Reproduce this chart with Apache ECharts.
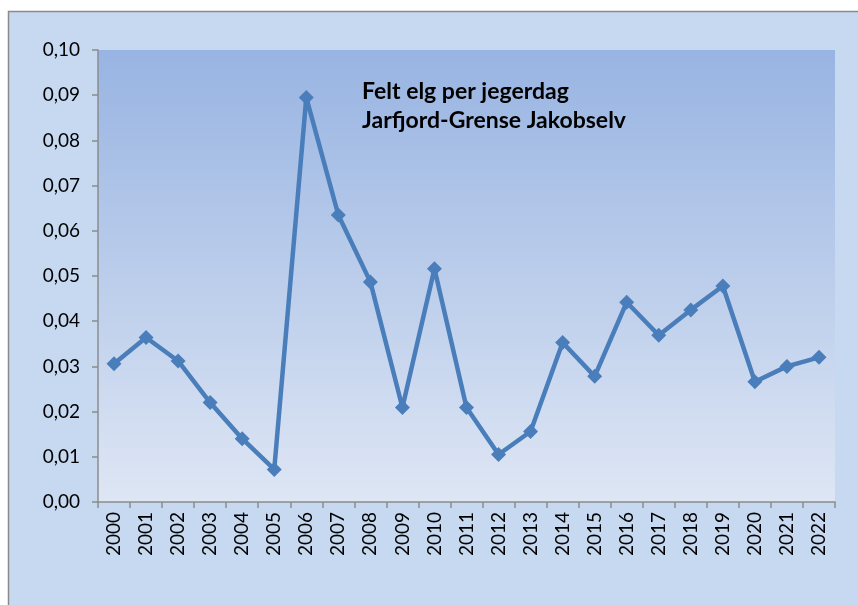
<!DOCTYPE html>
<html>
<head>
<meta charset="utf-8">
<script src="https://cdn.jsdelivr.net/npm/echarts@6/dist/echarts.min.js"></script>
<style>
  html, body { margin: 0; padding: 0; background: #fff; }
  #chart { width: 858px; height: 605px; }
</style>
</head>
<body>
<div id="chart"></div>
<script>
// Felt elg per jegerdag, Jarfjord-Grense Jakobselv
const years = ["2000", "2001", "2002", "2003", "2004", "2005", "2006", "2007", "2008", "2009", "2010", "2011",
  "2012", "2013", "2014", "2015", "2016", "2017", "2018", "2019", "2020", "2021", "2022"];
const perDay = [0.0306, 0.0364, 0.0312, 0.0220, 0.0140, 0.0072, 0.0895, 0.0635, 0.0487, 0.0209, 0.0516, 0.0209,
  0.0105, 0.0156, 0.0353, 0.0278, 0.0442, 0.0369, 0.0425, 0.0478, 0.0266, 0.0300, 0.0320];
const titleLines = ["Felt elg per jegerdag", "Jarfjord-Grense Jakobselv"];

const font = "Lato, 'Open Sans', sans-serif";
const axisGray = "#8c8c8c";

const chart = echarts.init(document.getElementById("chart"));

chart.setOption({
  backgroundColor: "#ffffff",
  animation: false,
  graphic: [
    {
      type: "rect",
      z: -10,
      shape: { x: 8.5, y: 11.5, width: 860, height: 600 },
      style: { fill: "#c6d9f0", stroke: "#8a8a8a", lineWidth: 1.5 },
    },
  ],
  title: {
    text: titleLines.join("\n"),
    left: 357,
    top: 72,
    textStyle: { fontFamily: font, fontWeight: "bold", fontSize: 23, lineHeight: 29, color: "#000" },
  },
  grid: {
    left: 98,
    top: 50,
    right: 23,
    bottom: 103,
    show: true,
    borderWidth: 0,
    backgroundColor: new echarts.graphic.LinearGradient(0, 0, 0, 1, [
      { offset: 0, color: "#98b4e2" },
      { offset: 1, color: "#dee6f4" },
    ]),
  },
  xAxis: {
    type: "category",
    data: years,
    boundaryGap: true,
    axisLine: { lineStyle: { color: axisGray, width: 1.5 } },
    axisTick: { show: true, length: 6, alignWithLabel: false, lineStyle: { color: axisGray, width: 1.5 } },
    axisLabel: { rotate: 90, margin: 10, fontFamily: font, fontSize: 19, color: "#000", interval: 0 },
    splitLine: { show: false },
  },
  yAxis: {
    type: "value",
    min: 0,
    max: 0.1,
    interval: 0.01,
    axisLine: { show: true, lineStyle: { color: axisGray, width: 1.5 } },
    axisTick: { show: true, length: 6, lineStyle: { color: axisGray, width: 1.5 } },
    axisLabel: {
      margin: 18,
      fontFamily: font,
      fontSize: 19,
      color: "#000",
      formatter: (v) => v.toFixed(2).replace(".", ","),
    },
    splitLine: { show: false },
  },
  series: [
    {
      type: "line",
      data: perDay,
      symbol: "diamond",
      symbolSize: 15,
      lineStyle: { color: "#4a7ebb", width: 4.5 },
      itemStyle: { color: "#4a7ebb" },
    },
  ],
});
</script>
</body>
</html>
